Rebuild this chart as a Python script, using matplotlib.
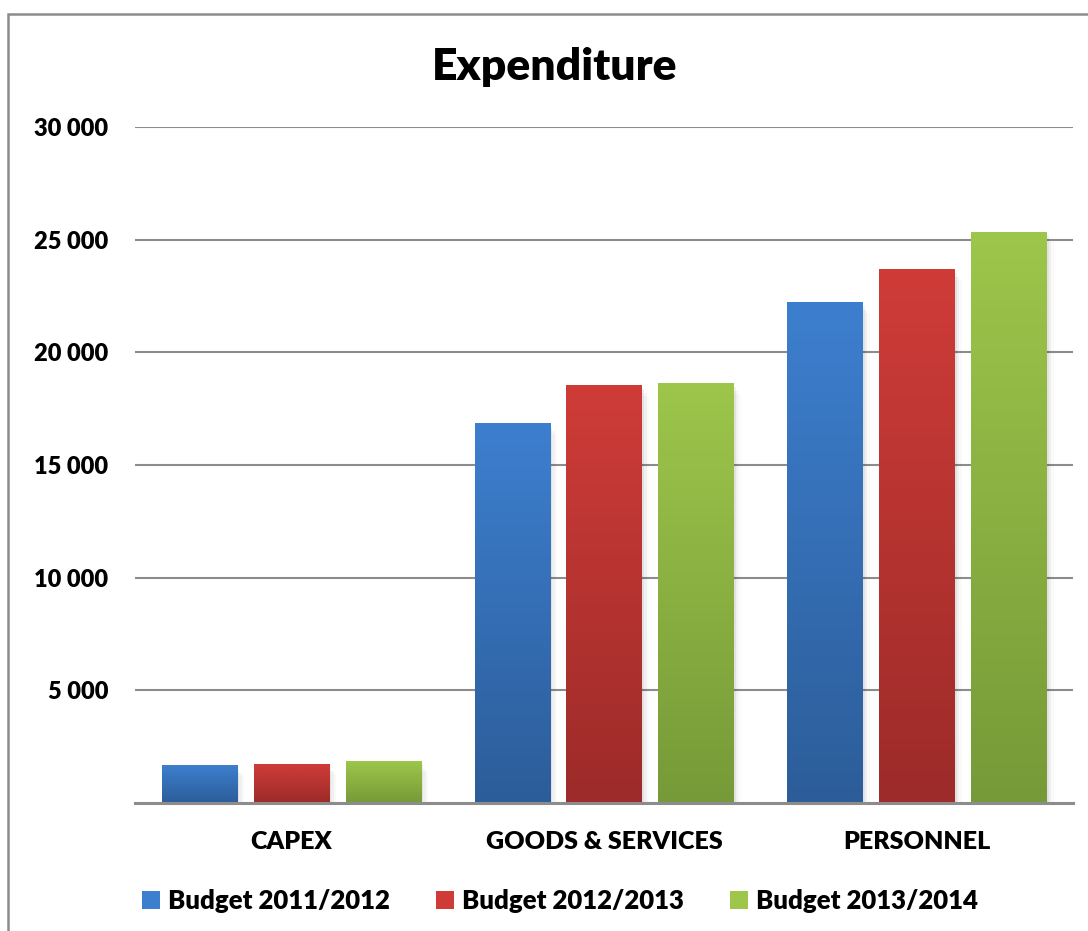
import numpy as np
import matplotlib
matplotlib.use('Agg')
import matplotlib.pyplot as plt
from matplotlib.patches import Rectangle
from matplotlib.colors import LinearSegmentedColormap
from matplotlib.ticker import FuncFormatter

########
# Data #
########

categories = ['CAPEX', 'GOODS & SERVICES', 'PERSONNEL']
series = ['Budget 2011/2012', 'Budget 2012/2013', 'Budget 2013/2014']
budget_1112 = [1650, 16820, 22190]
budget_1213 = [1730, 18510, 23660]
budget_1314 = [1820, 18600, 25340]
yticks = [5000, 10000, 15000, 20000, 25000, 30000]

# (top colour, bottom colour) for the gradient fill
colours = [('#3d7fcf', '#2c5d99'),
           ('#cf3c38', '#9c2b29'),
           ('#9dc64b', '#769a38')]

#########
# Setup #
#########

plt.rcParams['font.family'] = ['Lato', 'DejaVu Sans']
plt.rcParams['font.weight'] = 'heavy'

W, H = 1088, 931
fig = plt.figure(figsize=(W/100, H/100), dpi=100)
ax = fig.add_axes([135/W, (H-803)/H, (1073-135)/W, (803-127)/H])

# chart border
fig.patches.append(Rectangle((8/W, 0-0.01), 1.2, (H-14)/H + 0.01, transform=fig.transFigure,
                             fill=False, edgecolor='#8c8c8c', linewidth=1.8))

x = np.arange(len(categories))
width = 0.24
step = 0.294
grad = np.linspace(0, 1, 256).reshape(-1, 1)

for i, vals in enumerate([budget_1112, budget_1213, budget_1314]):
    top, bot = colours[i]
    cmap = LinearSegmentedColormap.from_list('g%d' % i, [top, bot])
    bars = ax.bar(x + (i-1)*step, vals, width, color=top, zorder=3)
    for b in bars:
        x0, w, h = b.get_x(), b.get_width(), b.get_height()
        # soft shadow
        for k, a in enumerate([0.06, 0.04, 0.02]):
            d = 0.004*(k+1)
            ax.add_patch(Rectangle((x0+d, 0), w+d, h-150*(k+1), facecolor='black',
                                   alpha=a, edgecolor='none', zorder=2))
        b.set_alpha(0)
        ax.imshow(grad, extent=[x0, x0+w, 0, h], aspect='auto', cmap=cmap,
                  origin='upper', zorder=4)

ax.set_xlim(-0.5, 2.5)
ax.set_ylim(0, 30000)
ax.set_yticks(yticks)
ax.yaxis.set_major_formatter(FuncFormatter(lambda v, p: '{:,.0f}'.format(v).replace(',', ' ')))
ax.set_xticks(x)
ax.set_xticklabels(categories)
ax.tick_params(axis='y', length=0, pad=19, labelsize=17)
ax.tick_params(axis='x', length=0, pad=20, labelsize=18)
ax.grid(axis='y', color='#8c8c8c', linewidth=1.5, zorder=0)
ax.set_axisbelow(True)
for s in ['top', 'right', 'left']:
    ax.spines[s].set_visible(False)
ax.spines['bottom'].set_color('#8c8c8c')
ax.spines['bottom'].set_linewidth(2.2)
ax.spines['bottom'].set_zorder(5)

fig.text(555/W, 1-67/H, 'Expenditure', ha='center', va='center', fontsize=32)

handles = [Rectangle((0, 0), 1, 1, facecolor=c[0]) for c in colours]
fig.legend(handles, series, loc='center', bbox_to_anchor=(560/W, 1-901/H), ncol=3,
           frameon=False, fontsize=18.5, handlelength=0.7, handleheight=0.7,
           handletextpad=0.3, columnspacing=1.8)

fig.savefig('out.png', dpi=100)
